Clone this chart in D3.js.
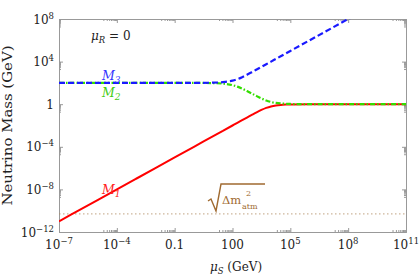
<!DOCTYPE html>
<html>
<head>
<meta charset="utf-8">
<script src="https://cdn.jsdelivr.net/npm/d3@7"></script>
<style>
  body { margin: 0; background: #fff; }
</style>
</head>
<body>
<div id="chart"></div>
<script>
// mu_S values (GeV) and the three mass eigenvalues
const muS = [1e-7, 1e-5, 1e-3, 1e-1, 1, 10, 31.6, 100, 178, 316, 562, 1000, 1778, 3162, 5623,
             1e4, 1.78e4, 3.16e4, 5.62e4, 1e5, 1e6, 1e8, 1e11];
const M1 = [1e-11, 1e-9, 1e-7, 1e-5, 1e-4, 1e-3, 3.16e-3, 0.01, 0.0178, 0.0318, 0.056, 0.099, 0.173, 0.29, 0.449,
            0.618, 0.758, 0.854, 0.915, 0.951, 0.995, 1.0, 1.0];
const M2 = [100, 100, 100, 99.95, 99.5, 95.1, 85.4, 61.8, 44.9, 29.0, 17.3, 10.1, 5.79, 3.45, 2.23,
            1.618, 1.32, 1.17, 1.093, 1.051, 1.005, 1.0, 1.0];
const M3 = [100, 100, 100, 100.05, 100.5, 105.1, 117, 161.8, 223, 345, 579, 1010, 1784, 3165, 5625,
            1e4, 1.78e4, 3.16e4, 5.62e4, 1e5, 1e6, 1e8, 1e11];
const atmScale = 5e-11; // sqrt(dm^2_atm) in GeV

// tick values and labels: [base, exponent] (exponent null = plain)
const xTicks = [1e-7, 1e-4, 0.1, 100, 1e5, 1e8, 1e11];
const xTickLabels = [["10", "\u22127"], ["10", "\u22124"], ["0.1", null], ["100", null], ["10", "5"], ["10", "8"], ["10", "11"]];
const yTicks = [1e-12, 1e-8, 1e-4, 1, 1e4, 1e8];
const yTickLabels = [["10", "\u221212"], ["10", "\u22128"], ["10", "\u22124"], ["1", null], ["10", "4"], ["10", "8"]];

const W = 420, H = 277;
const margin = { left: 59, right: 14, top: 19, bottom: 45 };
const serif = "'DejaVu Serif', serif";

const svg = d3.select("#chart").append("svg").attr("width", W).attr("height", H)
  .attr("font-family", serif);

const x = d3.scaleLog().domain([1e-7, 1e11]).range([margin.left, W - margin.right]);
const y = d3.scaleLog().domain([1e-12, 1e8]).range([H - margin.bottom, margin.top]);

// minor ticks: 2..9 x 10^(n-1) just below each labelled tick
function minorsFor(ticks) {
  const out = [];
  ticks.forEach(t => {
    for (let k = 2; k <= 9; k++) out.push(k * t / 10);
  });
  return out;
}
const xMinor = minorsFor(xTicks).filter(v => v > 1e-7);
const yMinor = minorsFor(yTicks).filter(v => v > 1e-12);

const frameColor = "#999";

function styleAxis(g) {
  g.selectAll("path.domain").attr("stroke", frameColor);
  g.selectAll(".tick line").attr("stroke", frameColor);
  g.selectAll(".tick text").remove();
}

const x0 = x.range()[0], x1 = x.range()[1], y0 = y.range()[0], y1 = y.range()[1];

// frame + ticks (inside)
svg.append("g").attr("transform", `translate(0,${y0})`)
  .call(d3.axisBottom(x).tickValues(xTicks).tickSize(-4).tickSizeOuter(0)).call(styleAxis);
svg.append("g").attr("transform", `translate(0,${y0})`)
  .call(d3.axisBottom(x).tickValues(xMinor).tickSize(-2).tickSizeOuter(0)).call(styleAxis);
svg.append("g").attr("transform", `translate(0,${y1})`)
  .call(d3.axisTop(x).tickValues(xTicks).tickSize(-4).tickSizeOuter(0)).call(styleAxis);
svg.append("g").attr("transform", `translate(0,${y1})`)
  .call(d3.axisTop(x).tickValues(xMinor).tickSize(-2).tickSizeOuter(0)).call(styleAxis);
svg.append("g").attr("transform", `translate(${x0},0)`)
  .call(d3.axisLeft(y).tickValues(yTicks).tickSize(-4).tickSizeOuter(0)).call(styleAxis);
svg.append("g").attr("transform", `translate(${x0},0)`)
  .call(d3.axisLeft(y).tickValues(yMinor).tickSize(-2).tickSizeOuter(0)).call(styleAxis);
svg.append("g").attr("transform", `translate(${x1},0)`)
  .call(d3.axisRight(y).tickValues(yTicks).tickSize(-4).tickSizeOuter(0)).call(styleAxis);
svg.append("g").attr("transform", `translate(${x1},0)`)
  .call(d3.axisRight(y).tickValues(yMinor).tickSize(-2).tickSizeOuter(0)).call(styleAxis);

// tick labels with superscripts
function addLabel(sel, lab) {
  sel.append("tspan").text(lab[0]);
  if (lab[1] !== null) {
    sel.append("tspan").attr("dy", -5).attr("font-size", 8.5).text(lab[1]);
  }
}
xTicks.forEach((t, i) => {
  const tx = svg.append("text").attr("x", x(t)).attr("y", y0 + 17)
    .attr("text-anchor", "middle").attr("font-size", 12).attr("fill", "#222");
  addLabel(tx, xTickLabels[i]);
});
yTicks.forEach((t, i) => {
  const ty = svg.append("text").attr("x", x0 - 5).attr("y", y(t) + 4.5)
    .attr("text-anchor", "end").attr("font-size", 12).attr("fill", "#222");
  addLabel(ty, yTickLabels[i]);
});

// axis titles
const xt = svg.append("text").attr("x", 236).attr("y", 271).attr("text-anchor", "middle")
  .attr("font-size", 12).attr("fill", "#222");
xt.append("tspan").attr("font-style", "italic").text("\u03bc");
xt.append("tspan").attr("font-style", "italic").attr("font-size", 8.5).attr("dy", 3).text("S");
xt.append("tspan").attr("dy", -3).text(" (GeV)");

svg.append("text").attr("transform", `translate(12,${(y0 + y1) / 2}) rotate(-90)`)
  .attr("text-anchor", "middle").attr("font-size", 13).attr("fill", "#222")
  .attr("textLength", 160).attr("lengthAdjust", "spacingAndGlyphs")
  .text("Neutrino Mass (GeV)");

// atmospheric line
svg.append("line").attr("x1", x0).attr("x2", x1).attr("y1", y(atmScale)).attr("y2", y(atmScale))
  .attr("stroke", "#b08a60").attr("stroke-width", 0.8).attr("stroke-dasharray", "1.5,2.5");

// curves
const line = d3.line().x(d => x(d[0])).y(d => y(d[1])).curve(d3.curveMonotoneX);
const clipId = "plotclip";
svg.append("clipPath").attr("id", clipId).append("rect")
  .attr("x", x0).attr("y", y1).attr("width", x1 - x0).attr("height", y0 - y1);
const curves = svg.append("g").attr("clip-path", `url(#${clipId})`);

curves.append("path").datum(d3.zip(muS, M1)).attr("d", line)
  .attr("fill", "none").attr("stroke", "#ff0000").attr("stroke-width", 2);
curves.append("path").datum(d3.zip(muS, M2)).attr("d", line)
  .attr("fill", "none").attr("stroke", "#33dd00").attr("stroke-width", 2.2)
  .attr("stroke-dasharray", "5,2,1.5,2");
curves.append("path").datum(d3.zip(muS, M3)).attr("d", line)
  .attr("fill", "none").attr("stroke", "#1a1aff").attr("stroke-width", 2.2)
  .attr("stroke-dasharray", "6,3");

// curve labels
function massLabel(px, py, sub, color) {
  const t = svg.append("text").attr("x", px).attr("y", py).attr("font-size", 12.5)
    .attr("font-style", "italic").attr("fill", color);
  t.append("tspan").text("M");
  t.append("tspan").attr("font-size", 9).attr("dy", 3).text(sub);
}
massLabel(102, 80, "3", "#3333ff");
massLabel(102, 97, "2", "#44cc11");
massLabel(102, 194, "1", "#ff2020");

// mu_R = 0
const mr = svg.append("text").attr("x", 91).attr("y", 40).attr("font-size", 12).attr("fill", "#222");
mr.append("tspan").attr("font-style", "italic").text("\u03bc");
mr.append("tspan").attr("font-style", "italic").attr("font-size", 8.5).attr("dy", 3).text("R");
mr.append("tspan").attr("dy", -3).text(" = 0");

// sqrt(dm^2_atm) label
const brown = "#a06a30";
svg.append("path")
  .attr("d", "M208,201 L211,199 L216,211 L221,184 L265,184")
  .attr("fill", "none").attr("stroke", brown).attr("stroke-width", 1.4);
const sq = svg.append("text").attr("x", 222).attr("y", 204).attr("font-size", 11.5).attr("fill", brown);
sq.append("tspan").text("\u0394m");
sq.append("tspan").attr("x", 246).attr("y", 196).attr("font-size", 8).text("2");
sq.append("tspan").attr("x", 242).attr("y", 209).attr("font-size", 8).text("atm");
</script>
</body>
</html>
